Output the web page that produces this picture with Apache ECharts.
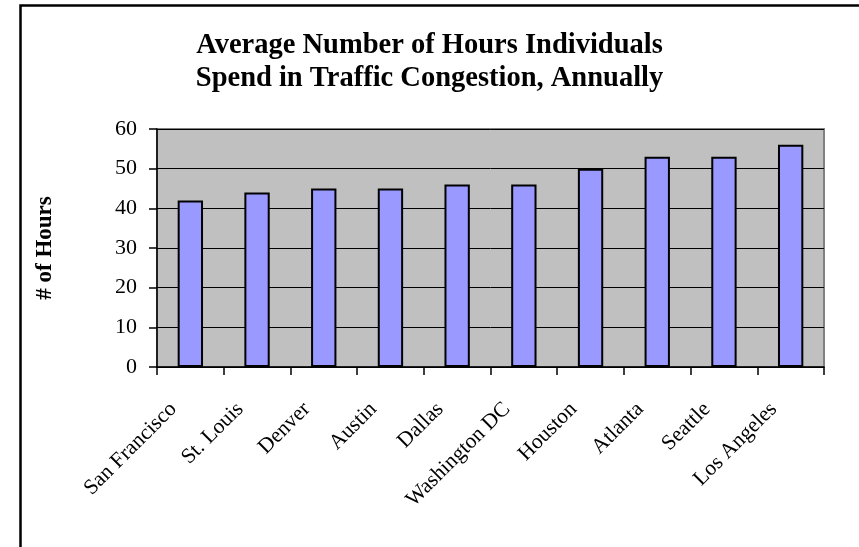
<!DOCTYPE html>
<html>
<head>
<meta charset="utf-8">
<script src="https://cdn.jsdelivr.net/npm/echarts@6/dist/echarts.min.js"></script>
<style>
  html, body { margin: 0; padding: 0; background: #fff; }
  #chart { width: 859px; height: 547px; }
</style>
</head>
<body>
<div id="chart"></div>
<script>
var categories = ['San Francisco', 'St. Louis', 'Denver', 'Austin', 'Dallas', 'Washington DC', 'Houston', 'Atlanta', 'Seattle', 'Los Angeles'];
var hours = [42, 44, 45, 45, 46, 46, 50, 53, 53, 56];
var yTicks = { min: 0, max: 60, interval: 10 };
var titleLines = ['Average Number of Hours Individuals', 'Spend in Traffic Congestion, Annually'];
var yAxisName = '# of Hours';

var font = '"Liberation Serif", "Times New Roman", serif';
var chart = echarts.init(document.getElementById('chart'), null, { renderer: 'canvas' });
chart.setOption({
  animation: false,
  backgroundColor: '#ffffff',
  title: {
    text: titleLines.join('\n'),
    left: 'center',
    top: 24,
    textStyle: { fontFamily: font, fontSize: 28.5, fontWeight: 'bold', color: '#000', lineHeight: 33 }
  },
  grid: {
    left: 157, right: 35, top: 129, bottom: 180,
    show: true, backgroundColor: '#c0c0c0', borderColor: '#808080', borderWidth: 2
  },
  xAxis: {
    type: 'category',
    data: categories,
    axisLine: { lineStyle: { color: '#000', width: 1.5 } },
    axisTick: { show: true, alignWithLabel: false, length: 8, lineStyle: { color: '#000', width: 1.5 } },
    axisLabel: {
      interval: 0, rotate: 45, margin: 22, padding: [0, 24, 0, 0],
      fontFamily: font, fontSize: 21.5, color: '#000'
    },
    splitLine: { show: false }
  },
  yAxis: {
    type: 'value',
    min: yTicks.min, max: yTicks.max, interval: yTicks.interval,
    name: yAxisName,
    nameLocation: 'middle',
    nameGap: 100,
    nameTextStyle: { fontFamily: font, fontSize: 23, fontWeight: 'bold', color: '#000' },
    axisLine: { show: true, lineStyle: { color: '#000', width: 1.5 } },
    axisTick: { show: true, length: 8, lineStyle: { color: '#000', width: 1.5 } },
    axisLabel: { margin: 20, fontFamily: font, fontSize: 22, color: '#000' },
    splitLine: { show: true, lineStyle: { color: '#000', width: 1 } }
  },
  series: [{
    type: 'bar',
    data: hours,
    barWidth: '38%',
    itemStyle: { color: '#9999ff', borderColor: '#000', borderWidth: 2 }
  }],
  graphic: [{
    type: 'rect',
    shape: { x: 20.5, y: 5.5, width: 900, height: 600 },
    style: { fill: 'none', stroke: '#000', lineWidth: 2.5 },
    silent: true,
    z: 100
  }]
});
</script>
</body>
</html>
